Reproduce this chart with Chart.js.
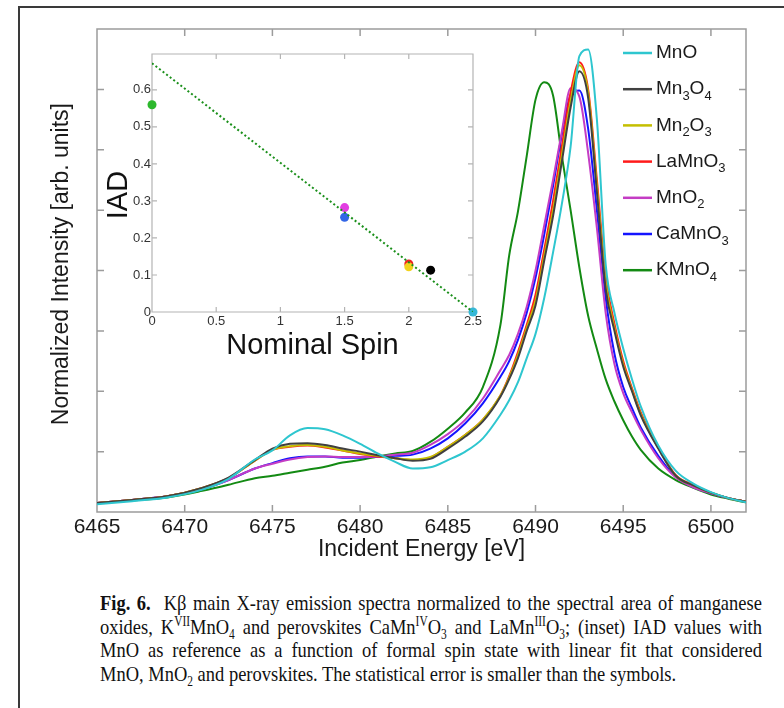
<!DOCTYPE html>
<html>
<head>
<meta charset="utf-8">
<script src="https://cdn.jsdelivr.net/npm/chart.js"></script>
<style>
  html, body { margin: 0; padding: 0; background: #fff; }
  body { width: 784px; height: 708px; position: relative; overflow: hidden; }
  #frame { position: absolute; left: 18px; top: 6px; width: 800px; height: 760px;
           border-left: 2px solid #3a3a3a; border-top: 2px solid #3a3a3a; }
  #main { position: absolute; left: 0; top: 0; }
  #inset { position: absolute; left: 90px; top: 40px; }
  #caption { position: absolute; left: 100px; top: 591px; width: 788px;
             transform: scaleX(0.84); transform-origin: 0 0;
             font-family: "Liberation Serif", serif; font-size: 22px; line-height: 23.7px; color: #111; }
  #caption .j { text-align: justify; text-align-last: justify; }
  #caption sup, #caption sub { font-size: 0.62em; line-height: 0; }
</style>
</head>
<body>
<div id="frame"></div>
<canvas id="main" width="784" height="570"></canvas>
<canvas id="inset" width="400" height="330"></canvas>
<div id="caption">
  <div class="j"><b>Fig. 6.</b>&nbsp; Kβ main X-ray emission spectra normalized to the spectral area of manganese</div>
  <div class="j">oxides, K<sup>VII</sup>MnO<sub>4</sub> and perovskites CaMn<sup>IV</sup>O<sub>3</sub> and LaMn<sup>III</sup>O<sub>3</sub>; (inset) IAD values with</div>
  <div class="j">MnO as reference as a function of formal spin state with linear fit that considered</div>
  <div>MnO, MnO<sub>2</sub> and perovskites. The statistical error is smaller than the symbols.</div>
</div>
<script>
// main spectra
const energy = [6465, 6467, 6469, 6471, 6472.5, 6474, 6475, 6476, 6477, 6478, 6479, 6480, 6481, 6482,
  6483, 6484, 6485, 6486, 6487, 6488, 6488.5, 6489, 6489.5, 6490, 6490.5, 6491, 6491.5, 6492, 6492.5,
  6493, 6493.5, 6494, 6494.5, 6495, 6495.5, 6496, 6497, 6498, 6499, 6500, 6501, 6502];

const mno = [0.13, 0.18, 0.24, 0.37, 0.55, 0.87, 1.02, 1.27, 1.39, 1.37, 1.27, 1.13, 0.97, 0.83,
  0.72, 0.74, 0.86, 1.0, 1.22, 1.61, 1.85, 2.15, 2.55, 2.95, 3.55, 4.3, 5.1, 6.05, 7.55,
  7.66, 6.5, 4.1, 3.3, 2.71, 2.2, 1.75, 1.1, 0.68, 0.47, 0.33, 0.23, 0.16];
const mn3o4 = [0.15, 0.2, 0.26, 0.4, 0.57, 0.86, 1.05, 1.13, 1.14, 1.11, 1.05, 1.0, 0.94, 0.89,
  0.85, 0.88, 1.05, 1.25, 1.5, 1.91, 2.2, 2.55, 3.0, 3.42, 4.17, 4.9, 5.8, 6.7, 7.3,
  6.86, 5.3, 3.7, 3.0, 2.41, 2.0, 1.6, 1.05, 0.6, 0.44, 0.32, 0.23, 0.17];
const mn2o3 = [0.15, 0.2, 0.26, 0.4, 0.56, 0.85, 1.03, 1.09, 1.11, 1.08, 1.02, 0.97, 0.93, 0.89,
  0.87, 0.91, 1.08, 1.28, 1.53, 1.93, 2.23, 2.6, 3.05, 3.5, 4.25, 5.0, 5.9, 6.8, 7.4,
  6.95, 5.4, 3.8, 3.05, 2.45, 2.02, 1.62, 1.06, 0.6, 0.44, 0.32, 0.23, 0.17];
const lamno3 = [0.15, 0.2, 0.26, 0.4, 0.56, 0.85, 1.03, 1.08, 1.1, 1.07, 1.02, 0.96, 0.92, 0.89,
  0.86, 0.9, 1.08, 1.28, 1.53, 1.93, 2.25, 2.65, 3.1, 3.6, 4.35, 5.15, 6.05, 6.95, 7.45,
  7.0, 5.5, 3.9, 3.12, 2.5, 2.05, 1.65, 1.07, 0.61, 0.45, 0.32, 0.23, 0.17];
const mno2 = [0.15, 0.2, 0.26, 0.38, 0.53, 0.72, 0.8, 0.87, 0.91, 0.92, 0.91, 0.91, 0.92, 0.95,
  0.98, 1.11, 1.29, 1.53, 1.88, 2.35, 2.6, 2.95, 3.4, 4.0, 4.75, 5.5, 6.3, 7.02, 6.88,
  5.95, 4.7, 3.3, 2.45, 1.97, 1.65, 1.36, 0.89, 0.57, 0.41, 0.31, 0.23, 0.17];
const camno3 = [0.15, 0.2, 0.26, 0.38, 0.53, 0.72, 0.81, 0.89, 0.92, 0.92, 0.9, 0.9, 0.92, 0.93,
  0.95, 1.05, 1.22, 1.47, 1.8, 2.24, 2.5, 2.85, 3.3, 3.88, 4.6, 5.4, 6.25, 6.9, 6.98,
  6.35, 5.0, 3.55, 2.62, 2.07, 1.72, 1.4, 0.93, 0.58, 0.42, 0.31, 0.23, 0.17];
const kmno4 = [0.15, 0.19, 0.24, 0.35, 0.45, 0.56, 0.6, 0.65, 0.7, 0.75, 0.82, 0.86, 0.92, 0.97,
  1.01, 1.16, 1.38, 1.65, 2.07, 3.1, 4.25, 4.98, 5.9, 6.83, 7.12, 6.9, 5.9, 5.0, 4.05,
  3.25, 2.7, 2.2, 1.83, 1.52, 1.25, 1.03, 0.72, 0.53, 0.4, 0.29, 0.22, 0.16];

const seriesNames = ["MnO", "Mn₃O₄", "Mn₂O₃", "LaMnO₃", "MnO₂", "CaMnO₃", "KMnO₄"];
const seriesColors = ["#2ec6cf", "#404040", "#c4bf00", "#ff1a1a", "#c43cc4", "#1414ff", "#138a13"];
const energyTicks = [6465, 6470, 6475, 6480, 6485, 6490, 6495, 6500];
const intensityTicks = [1, 2, 3, 4, 5, 6, 7];

// inset: IAD vs nominal spin
const spinValues = [2.5, 2.17, 2, 2, 1.5, 1.5, 0];
const iadValues = [0, 0.113, 0.122, 0.13, 0.282, 0.256, 0.56];
const spinColors = ["#35b8d8", "#000000", "#f2d21c", "#ee2222", "#e23de2", "#3366e6", "#2db82d"];
const fitSpin = [0, 2.5];
const fitIad = [0.672, 0];
const spinTicks = [0, 0.5, 1, 1.5, 2, 2.5];
const iadTicks = [0, 0.1, 0.2, 0.3, 0.4, 0.5, 0.6];

const FONT = '"Liberation Sans", Arial, sans-serif';
Chart.defaults.font.family = FONT;
Chart.defaults.color = "#1a1a1a";

// matlab style box with inward ticks
const boxTicks = {
  id: "boxTicks",
  beforeDatasetsDraw(chart, args, o) {
    const { ctx, chartArea: a } = chart;
    const xs = chart.scales.x, ys = chart.scales.y;
    ctx.save();
    ctx.strokeStyle = o.color;
    ctx.lineWidth = o.width;
    ctx.beginPath();
    o.xTicks.forEach(v => {
      const p = xs.getPixelForValue(v);
      ctx.moveTo(p, a.bottom); ctx.lineTo(p, a.bottom - o.len);
      ctx.moveTo(p, a.top); ctx.lineTo(p, a.top + o.len);
    });
    o.yTicks.forEach(v => {
      const p = ys.getPixelForValue(v);
      ctx.moveTo(a.left, p); ctx.lineTo(a.left + o.len, p);
      ctx.moveTo(a.right, p); ctx.lineTo(a.right - o.len, p);
    });
    ctx.rect(a.left, a.top, a.width, a.height);
    ctx.stroke();
    ctx.restore();
  }
};

const plotBg = {
  id: "plotBg",
  beforeDraw(chart) {
    const { ctx, chartArea: a } = chart;
    ctx.save();
    ctx.fillStyle = "#fff";
    ctx.fillRect(a.left, a.top, a.width, a.height);
    ctx.restore();
  }
};

// text with subscript digits
function drawRich(ctx, text, x, y, size, subSize, drop) {
  const subs = "₀₁₂₃₄₅₆₇₈₉";
  for (const ch of text) {
    const k = subs.indexOf(ch);
    if (k >= 0) {
      ctx.font = subSize + "px " + FONT;
      ctx.fillText(String(k), x, y + drop);
      x += ctx.measureText(String(k)).width;
    } else {
      ctx.font = size + "px " + FONT;
      ctx.fillText(ch, x, y);
      x += ctx.measureText(ch).width;
    }
  }
}

const richLegend = {
  id: "richLegend",
  afterDraw(chart, args, o) {
    const ctx = chart.ctx;
    ctx.save();
    ctx.textBaseline = "middle";
    ctx.textAlign = "left";
    ctx.fillStyle = o.color;
    chart.data.datasets.forEach((ds, i) => {
      const y = o.top + i * o.rowGap;
      ctx.strokeStyle = ds.borderColor;
      ctx.lineWidth = 2.5;
      ctx.beginPath();
      ctx.moveTo(o.left, y);
      ctx.lineTo(o.left + o.lineLen, y);
      ctx.stroke();
      drawRich(ctx, ds.label, o.left + o.lineLen + o.gap, y, o.size, o.subSize, o.drop);
    });
    ctx.restore();
  }
};

const spectra = [mno, mn3o4, mn2o3, lamno3, mno2, camno3, kmno4];

new Chart(document.getElementById("main"), {
  type: "line",
  data: {
    datasets: spectra.map((ys, i) => ({
      label: seriesNames[i],
      data: energy.map((e, k) => ({ x: e, y: ys[k] })),
      borderColor: seriesColors[i],
      borderWidth: 2,
      pointRadius: 0,
      cubicInterpolationMode: "monotone",
      fill: false,
    })),
  },
  options: {
    responsive: false,
    animation: false,
    devicePixelRatio: 1,
    layout: { padding: { top: 29, right: 38, left: 0, bottom: 0 } },
    plugins: {
      legend: { display: false },
      tooltip: { enabled: false },
      boxTicks: { color: "#9c9c9c", width: 1.5, len: 7, xTicks: energyTicks, yTicks: intensityTicks },
      richLegend: { left: 623, top: 53, rowGap: 36.2, lineLen: 29, gap: 4, size: 19, subSize: 13, drop: 7, color: "#1a1a1a" },
    },
    scales: {
      x: {
        type: "linear", min: 6465, max: 6502,
        afterBuildTicks: s => { s.ticks = energyTicks.map(v => ({ value: v })); },
        afterFit: s => { s.height = 58; },
        grid: { display: false, drawTicks: false },
        border: { display: false },
        ticks: { padding: 3, font: { size: 21 }, color: "#1a1a1a", autoSkip: false, maxRotation: 0, callback: v => String(v) },
        title: { display: true, text: "Incident Energy [eV]", font: { size: 23 }, color: "#1a1a1a", padding: { top: 0, bottom: 7 } },
      },
      y: {
        min: 0, max: 8,
        afterBuildTicks: s => { s.ticks = intensityTicks.map(v => ({ value: v })); },
        afterFit: s => { s.width = 97; },
        grid: { display: false, drawTicks: false },
        border: { display: false },
        ticks: { display: false },
        title: { display: true, text: "  Normalized Intensity [arb. units]", font: { size: 23 }, color: "#1a1a1a", padding: { top: 48, bottom: 0 } },
      },
    },
  },
  plugins: [boxTicks, richLegend],
});

const insetPoints = spinValues.map((s, k) => ({ x: s, y: iadValues[k] })).reverse();

new Chart(document.getElementById("inset"), {
  type: "scatter",
  data: {
    datasets: [
      {
        type: "line",
        data: fitSpin.map((s, k) => ({ x: s, y: fitIad[k] })),
        borderColor: "#1a8f1a",
        borderWidth: 2,
        borderDash: [2, 2.5],
        pointRadius: 0,
        fill: false,
      },
      {
        data: insetPoints,
        pointBackgroundColor: spinColors.slice().reverse(),
        pointBorderWidth: 0,
        pointRadius: 4.5,
        clip: false,
      },
    ],
  },
  options: {
    responsive: false,
    animation: false,
    devicePixelRatio: 1,
    layout: { padding: { top: 14, right: 17, left: 0, bottom: 0 } },
    plugins: {
      legend: { display: false },
      tooltip: { enabled: false },
      boxTicks: { color: "#b4b4b4", width: 1.2, len: 5, xTicks: [0.5, 1, 1.5, 2], yTicks: [0.1, 0.2, 0.3, 0.4, 0.5, 0.6] },
    },
    scales: {
      x: {
        type: "linear", min: 0, max: 2.5,
        afterBuildTicks: s => { s.ticks = spinTicks.map(v => ({ value: v })); },
        afterFit: s => { s.height = 58; },
        grid: { display: false, drawTicks: false },
        border: { display: false },
        ticks: { padding: 2, font: { size: 13 }, color: "#333", autoSkip: false, maxRotation: 0, callback: v => String(v) },
        title: { display: true, text: "Nominal Spin", font: { size: 29 }, color: "#111", padding: { top: 0, bottom: 6.6 } },
      },
      y: {
        min: 0, max: 0.697,
        afterBuildTicks: s => { s.ticks = iadTicks.map(v => ({ value: v })); },
        afterFit: s => { s.width = 62; },
        grid: { display: false, drawTicks: false },
        border: { display: false },
        ticks: { padding: 1, font: { size: 13 }, color: "#333", callback: v => String(+v.toFixed(1)) },
        title: { display: true, text: "IAD   ", font: { size: 29 }, color: "#111", padding: { top: 11.4, bottom: 0 } },
      },
    },
  },
  plugins: [plotBg, boxTicks],
});
</script>
</body>
</html>
